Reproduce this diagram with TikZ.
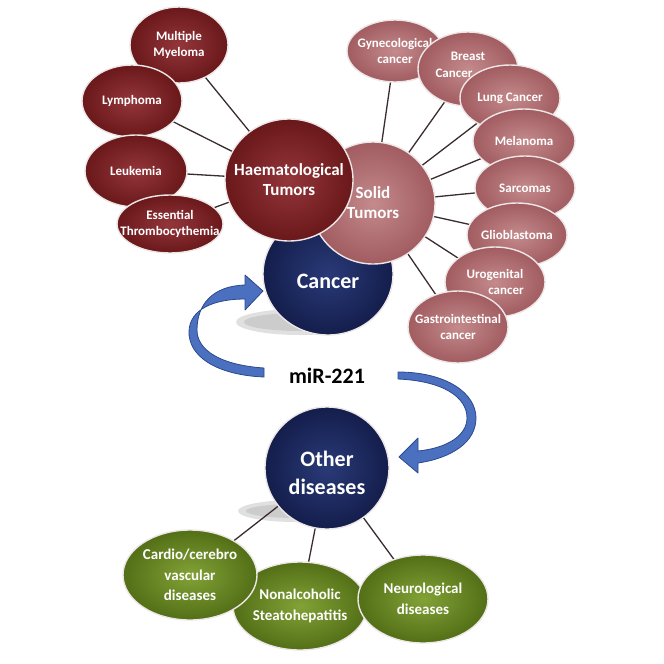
\documentclass[tikz,border=0pt]{standalone}
\usepackage{fontspec}
\setmainfont{Carlito}
\usetikzlibrary{shapes.geometric}
\pgfdeclarelayer{bg}
\pgfsetlayers{bg,main}
\definecolor{haemO}{HTML}{6A181B}
\definecolor{haemI}{HTML}{93363A}
\definecolor{solO}{HTML}{A15C60}
\definecolor{solI}{HTML}{C48A8C}
\definecolor{navyO}{HTML}{141E4C}
\definecolor{navyI}{HTML}{2A3A78}
\definecolor{grnO}{HTML}{536F17}
\definecolor{grnI}{HTML}{82A236}
\definecolor{rimC}{HTML}{ECE6E6}
\definecolor{lineC}{HTML}{3A2C2C}
\definecolor{arrF}{HTML}{4C70C0}
\definecolor{arrD}{HTML}{2B4A8C}
\tikzset{
  blob/.style={ellipse, inner sep=0pt, outer sep=0pt, draw=rimC, line width=1.4pt},
  haem/.style={blob, shading=radial, inner color=haemI, outer color=haemO},
  sol/.style={blob, shading=radial, inner color=solI, outer color=solO},
  navy/.style={blob, shading=radial, inner color=navyI, outer color=navyO},
  grn/.style={blob, shading=radial, inner color=grnI, outer color=grnO},
  smalllab/.style={text=white, align=center, font=\bfseries\fontsize{13}{16.5}\selectfont},
  midlab/.style={text=white, align=center, font=\bfseries\fontsize{17}{20}\selectfont},
  biglab/.style={text=white, align=center, font=\bfseries\fontsize{22}{28}\selectfont},
  grnlab/.style={text=white, align=center, font=\bfseries\fontsize{15}{20.5}\selectfont},
  link/.style={draw=lineC, line width=1.3pt},
  bigarrow/.style={fill=arrF, draw=arrD, line width=0.8pt, line join=round},
  shade/.style={fill=black!35, opacity=0.35}
}
\begin{document}
\begin{tikzpicture}[x=1pt,y=-1pt]
\useasboundingbox (0,0) rectangle (664,664);

% ---- cancer branch (bottom to top) ----
\node[navy, minimum width=130pt, minimum height=122pt,
  label={[biglab, yshift=-7pt]center:Cancer}] (cancer) at (328,274) {};

% solid satellites
\node[sol, minimum width=96pt, minimum height=62pt, label={[smalllab]center:Gynecological\\cancer}] (gyn) at (395,51) {};
\node[sol, minimum width=100pt, minimum height=74pt, label={[smalllab, xshift=-14pt, yshift=4pt]center:\hspace*{28pt}Breast\\Cancer}] (bre) at (468,69) {};
\node[sol, minimum width=100pt, minimum height=66pt, label={[smalllab]center:Lung Cancer}] (lung) at (510,98) {};
\node[sol, minimum width=102pt, minimum height=64pt, label={[smalllab]center:Melanoma}] (mel) at (524,141) {};
\node[sol, minimum width=100pt, minimum height=64pt, label={[smalllab]center:Sarcomas}] (sar) at (525,188) {};
\node[sol, minimum width=100pt, minimum height=64pt, label={[smalllab]center:Glioblastoma}] (gli) at (517,235) {};
\node[sol, minimum width=100pt, minimum height=70pt, label={[smalllab]center:Urogenital\\\hspace*{22pt}cancer}] (uro) at (495,282) {};
\node[sol, minimum width=100pt, minimum height=72pt, label={[smalllab]center:Gastrointestinal\\cancer}] (gas) at (458,327) {};

\node[sol, minimum width=124pt, minimum height=122pt,
  label={[midlab]center:Solid\\Tumors}] (solid) at (373,203) {};

% haematological satellites
\node[haem, minimum width=98pt, minimum height=76pt, label={[smalllab]center:Multiple\\Myeloma}] (mm) at (179,45) {};
\node[haem, minimum width=100pt, minimum height=72pt, label={[smalllab]center:Lymphoma}] (lym) at (132,101) {};
\node[haem, minimum width=102pt, minimum height=72pt, label={[smalllab]center:Leukemia}] (leu) at (136,171) {};
\node[haem, minimum width=106pt, minimum height=58pt, label={[smalllab]center:Essential\\Thrombocythemia}] (ess) at (170,224) {};

\node[haem, minimum width=128pt, minimum height=122pt,
  label={[midlab]center:Haematological\\Tumors}] (haemt) at (289,180) {};

% ---- other diseases branch ----
\node[navy, minimum width=124pt, minimum height=122pt,
  label={[biglab, yshift=-5pt]center:Other\\diseases}] (other) at (327,468) {};
\node[grn, minimum width=134pt, minimum height=88pt, label={[grnlab]center:Nonalcoholic\\Steatohepatitis}] (nash) at (300,606) {};
\node[grn, minimum width=134pt, minimum height=90pt, label={[grnlab]center:Cardio/cerebro\\vascular\\diseases}] (cardio) at (190,575) {};
\node[grn, minimum width=130pt, minimum height=88pt, label={[grnlab]center:Neurological\\diseases}] (neuro) at (423,599) {};

% ---- mir label ----
\node[font=\bfseries\fontsize{22}{26}\selectfont, text=black] (mir) at (327,376) {miR-221};

% ---- background: shadows and links ----
\begin{pgfonlayer}{bg}
  \fill[shade] (300,322) ellipse [x radius=64pt, y radius=13pt];
  \fill[shade] (300,322) ellipse [x radius=56pt, y radius=9pt];
  \fill[shade] (296,511) ellipse [x radius=58pt, y radius=11pt];
  \fill[shade] (296,511) ellipse [x radius=50pt, y radius=7pt];
  \foreach \t in {mm,lym,leu,ess} \draw[link] (haemt.center) -- (\t.center);
  \foreach \t in {gyn,bre,lung,mel,sar,gli,uro,gas} \draw[link] (solid.center) -- (\t.center);
  \foreach \t in {cardio,nash,neuro} \draw[link] (other.center) -- (\t.center);
\end{pgfonlayer}

% ---- curved arrows ----
\path[bigarrow] (264,377) .. controls (216,375) and (188,356) .. (189,331)
  .. controls (190,309) and (214,299) .. (245,299) -- (245,310) -- (263,291)
  -- (245,275) -- (245,285) .. controls (212,286) and (197,305) .. (197,330)
  .. controls (197,350) and (220,365) .. (264,368) -- cycle;
\path[bigarrow] (398,372) .. controls (446,372) and (476,393) .. (476,418)
  .. controls (476,442) and (452,458) .. (418,463) -- (418,473) -- (399,457)
  -- (418,438) -- (418,451) .. controls (448,448) and (467,435) .. (467,418)
  .. controls (467,397) and (443,381) .. (398,379) -- cycle;
\end{tikzpicture}
\end{document}
